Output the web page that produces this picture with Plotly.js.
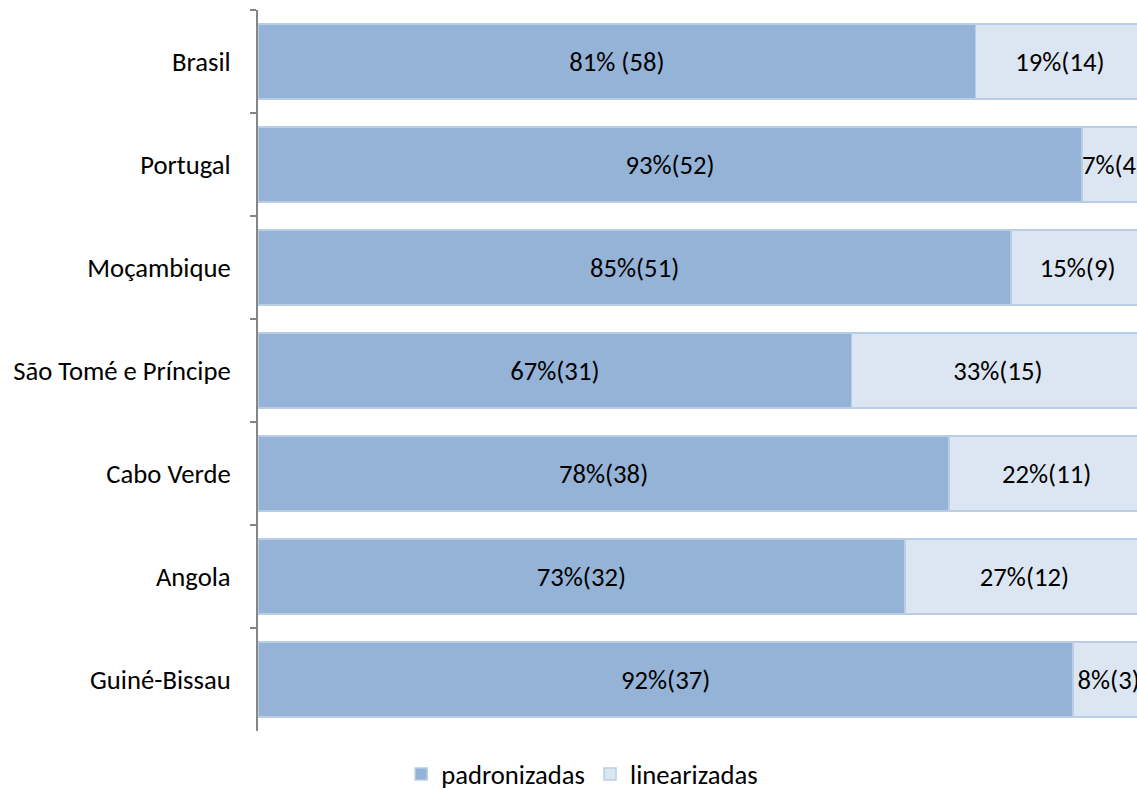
<!DOCTYPE html>
<html>
<head>
<meta charset="utf-8">
<script src="https://cdn.plot.ly/plotly-3.0.1.min.js"></script>
<style>html,body{margin:0;padding:0;background:#fff;}#chart{width:1137px;height:790px;}</style>
</head>
<body>
<div id="chart"></div>
<script>
const countries = ["Brasil", "Portugal", "Moçambique", "São Tomé e Príncipe", "Cabo Verde", "Angola", "Guiné-Bissau"];
const padronizadasPct = [81, 93, 85, 67, 78, 73, 92];
const padronizadasLabels = ["81% (58)", "93%(52)", "85%(51)", "67%(31)", "78%(38)", "73%(32)", "92%(37)"];
const linearizadasPct = [19, 7, 15, 33, 22, 27, 8];
const linearizadasLabels = ["19%(14)", "7%(4)", "15%(9)", "33%(15)", "22%(11)", "27%(12)", "8%(3)"];

const FONT = "Carlito, Lato, 'Open Sans', sans-serif";
const FS = 26.67;

const common = {
  type: "bar",
  orientation: "h",
  y: countries,
  textposition: "inside",
  insidetextanchor: "middle",
  textangle: 0,
  constraintext: "none",
  textfont: {family: FONT, size: FS, color: "#000"},
  hoverinfo: "none"
};

const data = [
  Object.assign({}, common, {
    name: "padronizadas",
    x: padronizadasPct,
    text: padronizadasLabels,
    marker: {color: "#95b3d7", line: {color: "#b9cde5", width: 1.5}}
  }),
  Object.assign({}, common, {
    name: "linearizadas",
    x: linearizadasPct,
    text: linearizadasLabels,
    marker: {color: "#dce6f2", line: {color: "#b9cde5", width: 1.5}}
  })
];

const layout = {
  width: 1137,
  height: 790,
  barmode: "stack",
  bargap: 0.27,
  margin: {l: 258, r: 0, t: 10, b: 59},
  paper_bgcolor: "#fff",
  plot_bgcolor: "#fff",
  font: {family: FONT, size: FS, color: "#000"},
  showlegend: true,
  legend: {
    orientation: "h",
    xref: "container", x: 0.512, xanchor: "center",
    yref: "container", y: 0.02, yanchor: "middle",
    font: {family: FONT, size: FS, color: "#000"},
    itemwidth: 30,
    traceorder: "normal"
  },
  xaxis: {
    range: [0, 99.2],
    showticklabels: false,
    showgrid: false,
    zeroline: false,
    showline: false,
    ticks: ""
  },
  yaxis: {
    type: "category",
    autorange: "reversed",
    tickson: "boundaries",
    ticks: "outside",
    ticklen: 6,
    tickwidth: 2,
    tickcolor: "#868686",
    showline: true,
    linecolor: "#868686",
    linewidth: 2,
    showgrid: false,
    zeroline: false,
    ticklabelstandoff: 20,
    tickfont: {family: FONT, size: FS, color: "#000"}
  }
};

Plotly.newPlot("chart", data, layout, {displayModeBar: false, staticPlot: true});
</script>
</body>
</html>
